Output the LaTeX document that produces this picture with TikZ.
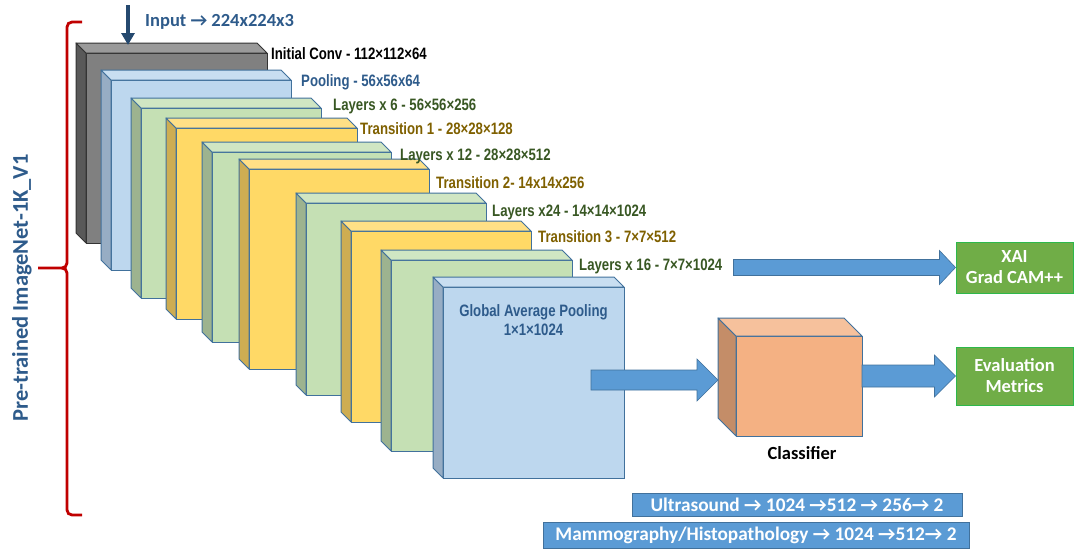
\documentclass[tikz,border=0pt]{standalone}
\usepackage{fontspec}
\setmainfont{Carlito}
\newfontfamily\narrowfont[FakeStretch=0.80]{Liberation Sans}
\newfontfamily\arrowfont{Carlito}
\usetikzlibrary{calc,positioning,arrows.meta}

\definecolor{convfront}{HTML}{808080}
\definecolor{convside}{HTML}{595959}
\definecolor{convtop}{HTML}{9A9A9A}
\definecolor{convedge}{HTML}{333333}
\definecolor{poolfront}{HTML}{BDD7EE}
\definecolor{poolside}{HTML}{97ADC4}
\definecolor{pooltop}{HTML}{C8DEF1}
\definecolor{densefront}{HTML}{C5E0B4}
\definecolor{denseside}{HTML}{9DB38F}
\definecolor{densetop}{HTML}{D0E6C3}
\definecolor{transfront}{HTML}{FFD966}
\definecolor{transside}{HTML}{CEAD52}
\definecolor{transtop}{HTML}{FFE086}
\definecolor{clsfront}{HTML}{F4B183}
\definecolor{clsside}{HTML}{C48D68}
\definecolor{clstop}{HTML}{F6C19C}
\definecolor{boxedge}{HTML}{41719C}
\definecolor{arrowblue}{HTML}{5B9BD5}
\definecolor{xaigreen}{HTML}{70AD47}
\definecolor{xaiedge}{HTML}{2DB84B}
\definecolor{darkblue}{HTML}{2E5B8B}
\definecolor{darkgreen}{HTML}{385723}
\definecolor{darkgold}{HTML}{7F6000}
\definecolor{bracketred}{HTML}{C00000}

\newcommand{\rarr}{{\arrowfont\bfseries →}}

% cube: name, left, top, width, height, depth, colour set, edge
\newcommand{\layerbox}[8]{%
  \node[draw=#8, fill=#7front, line width=1pt, inner sep=0pt, outer sep=0pt,
        minimum width=#4pt, minimum height=#5pt, anchor=north west] (#1) at (#2,#3) {};
  \draw[#8, fill=#7side, line width=1pt, line join=round] (#1.north west) -- ++(-#6,-#6)
        -- ($(#1.south west)+(-#6,-#6)$) -- (#1.south west) -- cycle;
  \draw[#8, fill=#7top, line width=1pt, line join=round] (#1.north west) -- ++(-#6,-#6)
        -- ($(#1.north east)+(-#6,-#6)$) -- (#1.north east) -- cycle;
}

% block arrow: start, tip, half body, half head, head length
\newcommand{\blockarrow}[5]{%
  \draw[blockarr] ($(#1)+(0,-#3)$) -- ($(#2)+(-#5,-#3)$) -- ($(#2)+(-#5,-#4)$) -- (#2)
        -- ($(#2)+(-#5,#4)$) -- ($(#2)+(-#5,#3)$) -- ($(#1)+(0,#3)$) -- cycle;
}

\begin{document}
\begin{tikzpicture}[x=1pt,y=-1pt,
  lbl/.style={anchor=west, inner sep=0pt, font=\narrowfont\bfseries\fontsize{16.5}{19.5}\selectfont},
  blockarr/.style={fill=arrowblue, draw=boxedge, line width=0.6pt},
  outbox/.style={fill=xaigreen, draw=xaiedge, line width=1pt, text=white, align=center,
    inner sep=0pt, font=\bfseries\fontsize{18.5}{21}\selectfont},
  headbar/.style={fill=arrowblue, draw=boxedge, line width=0.8pt, text=white, inner sep=0pt,
    font=\bfseries\fontsize{19.3}{21}\selectfont}]
\useasboundingbox (0,0) rectangle (1074,549);

%% layers, back to front
\layerbox{conv}{86}{53}{181}{190}{10}{conv}{convedge}
\layerbox{pool}{111}{80}{180}{190}{10}{pool}{boxedge}
\layerbox{lay6}{141}{108}{180}{190}{10}{dense}{boxedge}
\layerbox{tr1}{176}{128}{181}{191}{10}{trans}{boxedge}
\layerbox{lay12}{212}{152}{179}{190}{10}{dense}{boxedge}
\layerbox{tr2}{249}{169}{180}{200}{10}{trans}{boxedge}
\layerbox{lay24}{306}{203}{180}{192}{10}{dense}{boxedge}
\layerbox{tr3}{351}{231}{180}{191}{10}{trans}{boxedge}
\layerbox{lay16}{391}{260}{181}{191}{10}{dense}{boxedge}
\layerbox{gap}{443}{287}{181}{191}{10}{pool}{boxedge}
\layerbox{cls}{736}{336}{126}{100}{18}{cls}{boxedge}

%% labels
\node[lbl, text=black] (lconv) at (271,54) {Initial Conv - 112×112×64};
\node[lbl, text=darkblue] (lpool) at (301,82) {Pooling - 56x56x64};
\node[lbl, text=darkgreen] (llay6) at (333,106) {Layers x 6 - 56×56×256};
\node[lbl, text=darkgold] (ltr1) at (360,129) {Transition 1 - 28×28×128};
\node[lbl, text=darkgreen] (llay12) at (400,156) {Layers x 12 - 28×28×512};
\node[lbl, text=darkgold] (ltr2) at (436,183) {Transition 2- 14x14x256};
\node[lbl, text=darkgreen] (llay24) at (492,212) {Layers x24 - 14×14×1024};
\node[lbl, text=darkgold] (ltr3) at (538,237) {Transition 3 - 7×7×512};
\node[lbl, text=darkgreen] (llay16) at (579,266) {Layers x 16 - 7×7×1024};
\node[lbl, anchor=north, align=center, text=darkblue] (lgap) at ($(gap.north)+(0,17)$)
  {Global Average Pooling\\1×1×1024};
\node[font=\bfseries\fontsize{18.5}{21}\selectfont, inner sep=0pt] (lcls) at (802,453) {Classifier};

%% input
\node[anchor=west, inner sep=0pt, text=darkblue, font=\bfseries\fontsize{18.5}{21}\selectfont]
  (input) at (145,22) {Input \rarr{} 224x224x3};
\coordinate (intop) at (128,5);
\draw[darkblue!80!black, line width=4pt, -{Triangle[width=13pt,length=12pt]}]
  (intop) -- ($(intop |- conv.north)+(0,-8)$);

%% bracket
\draw[bracketred, line width=2.8pt] (82,22) -- (72,22) to[out=180,in=90] (67,27) -- (67,263)
  to[out=-90,in=0] (62,268) -- (38,268);
\draw[bracketred, line width=2.8pt] (62,268) to[out=0,in=90] (67,273) -- (67,510)
  to[out=-90,in=180] (72,515) -- (82,515);
\node[rotate=90, text=darkblue, font=\bfseries\fontsize{22.5}{25}\selectfont, inner sep=0pt]
  (pretrained) at (22,288) {Pre-trained ImageNet-1K\_V1};

%% outputs
\node[outbox, minimum width=117pt, minimum height=51pt] (xai) at (1014.5,267.5) {XAI\\Grad CAM++};
\node[outbox, minimum width=117pt, minimum height=58pt] (evl) at (1014.5,376) {Evaluation\\Metrics};

\coordinate (xaistart) at ($(xai.west -| llay16.east)+(11,0)$);
\coordinate (clsin) at ($(cls.west)+(-18,-6)$);
\coordinate (gapout) at ($(gap.east |- clsin)+(-33,0)$);
\coordinate (clsout) at (cls.east |- evl.west);
\blockarrow{xaistart}{xai.west}{8}{17}{16}
\blockarrow{gapout}{clsin}{10}{21}{21}
\blockarrow{clsout}{evl.west}{11}{21}{21}

%% heads
\node[headbar, minimum width=330pt, minimum height=23pt] (ushead) at (797,504.5)
  {Ultrasound \rarr{} 1024 \rarr512 \rarr{} 256\rarr{} 2};
\node[headbar, minimum width=426pt, minimum height=26pt] (mhhead) at (756,535)
  {Mammography/Histopathology \rarr{} 1024 \rarr512\rarr{} 2};

\end{tikzpicture}
\end{document}
